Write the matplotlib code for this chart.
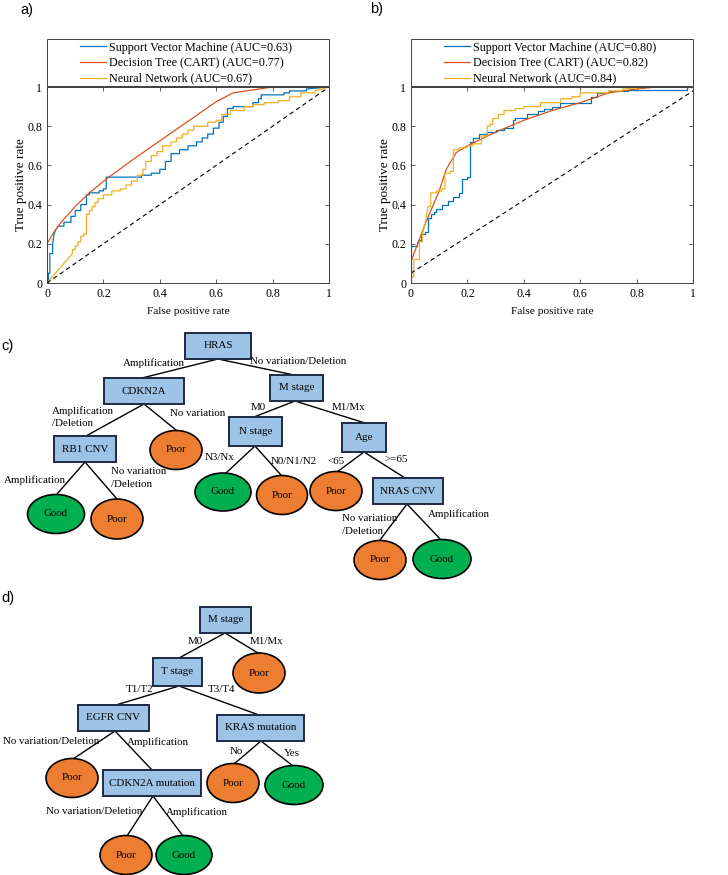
import matplotlib
matplotlib.use("Agg")
import matplotlib.pyplot as plt
from matplotlib.patches import Rectangle, Ellipse

# ---------------- ROC data ----------------
model_names = ["Support Vector Machine", "Decision Tree (CART)", "Neural Network"]
auc_a = [0.63, 0.77, 0.67]
auc_b = [0.80, 0.82, 0.84]

svm_a_fpr = [0, 0.005, 0.005, 0.01, 0.01, 0.02, 0.02, 0.025, 0.03, 0.04, 0.06, 0.06, 0.085, 0.085, 0.1, 0.1, 0.12, 0.12, 0.14, 0.14, 0.15, 0.15, 0.185, 0.185, 0.2, 0.2, 0.21, 0.21,
             0.335, 0.335, 0.37, 0.37, 0.4, 0.4, 0.42, 0.42, 0.44, 0.44, 0.47, 0.47, 0.5, 0.5, 0.53, 0.53, 0.55, 0.55, 0.57, 0.57, 0.59, 0.59, 0.61, 0.61, 0.625, 0.625, 0.64, 0.64,
             0.66, 0.66, 0.73, 0.73, 0.75, 0.75, 0.76, 0.76, 0.84, 0.84, 0.86, 0.86, 0.92, 0.92, 1.0]
svm_a_tpr = [0, 0, 0.05, 0.05, 0.15, 0.15, 0.2, 0.25, 0.27, 0.29, 0.29, 0.31, 0.31, 0.34, 0.34, 0.37, 0.37, 0.40, 0.40, 0.45, 0.45, 0.46, 0.46, 0.47, 0.47, 0.48, 0.48, 0.54,
             0.54, 0.55, 0.55, 0.56, 0.56, 0.58, 0.58, 0.62, 0.62, 0.66, 0.66, 0.68, 0.68, 0.70, 0.70, 0.72, 0.72, 0.74, 0.74, 0.76, 0.76, 0.79, 0.79, 0.82, 0.82, 0.85, 0.85, 0.89,
             0.89, 0.90, 0.90, 0.92, 0.92, 0.94, 0.94, 0.96, 0.96, 0.97, 0.97, 0.98, 0.98, 0.99, 1.0]

dt_a_fpr = [0, 0, 0.02, 0.05, 0.1, 0.15, 0.21, 0.3, 0.4, 0.5, 0.6, 0.66, 0.8, 1.0]
dt_a_tpr = [0, 0.2, 0.25, 0.31, 0.39, 0.46, 0.53, 0.625, 0.725, 0.825, 0.925, 0.97, 1.0, 1.0]

nn_a_fpr = [0, 0.09, 0.09, 0.1, 0.1, 0.11, 0.11, 0.12, 0.12, 0.13, 0.13, 0.14, 0.14, 0.15, 0.15, 0.16, 0.16, 0.17, 0.17, 0.18, 0.18, 0.2, 0.2, 0.23, 0.23, 0.26, 0.26, 0.28, 0.28,
            0.3, 0.3, 0.32, 0.32, 0.34, 0.34, 0.35, 0.35, 0.37, 0.37, 0.39, 0.39, 0.41, 0.41, 0.44, 0.44, 0.46, 0.46, 0.48, 0.48, 0.5, 0.5, 0.52, 0.52, 0.57, 0.57, 0.6, 0.6,
            0.62, 0.62, 0.65, 0.65, 0.7, 0.7, 0.73, 0.73, 0.77, 0.77, 0.82, 0.82, 0.86, 0.86, 0.9, 0.9, 0.95, 0.95, 1.0]
nn_a_tpr = [0, 0.15, 0.17, 0.17, 0.19, 0.19, 0.21, 0.21, 0.24, 0.24, 0.25, 0.25, 0.35, 0.35, 0.37, 0.37, 0.39, 0.39, 0.41, 0.41, 0.43, 0.43, 0.45, 0.45, 0.47, 0.47, 0.48, 0.48, 0.5,
            0.5, 0.52, 0.52, 0.55, 0.55, 0.58, 0.58, 0.62, 0.62, 0.65, 0.65, 0.67, 0.67, 0.7, 0.7, 0.72, 0.72, 0.74, 0.74, 0.76, 0.76, 0.78, 0.78, 0.8, 0.8, 0.82, 0.82, 0.83,
            0.83, 0.86, 0.86, 0.88, 0.88, 0.9, 0.9, 0.91, 0.91, 0.92, 0.92, 0.93, 0.93, 0.95, 0.95, 0.97, 0.97, 0.98, 1.0]

svm_b_fpr = [0, 0, 0.02, 0.02, 0.03, 0.03, 0.035, 0.035, 0.05, 0.05, 0.06, 0.06, 0.07, 0.07, 0.08, 0.08, 0.09, 0.09, 0.11, 0.11, 0.13, 0.13, 0.15, 0.15, 0.17, 0.17, 0.18, 0.18,
             0.2, 0.2, 0.21, 0.21, 0.22, 0.22, 0.24, 0.24, 0.27, 0.27, 0.3, 0.3, 0.33, 0.33, 0.36, 0.36, 0.37, 0.37, 0.41, 0.41, 0.45, 0.45, 0.47, 0.47, 0.5, 0.5, 0.53, 0.53,
             0.64, 0.64, 0.66, 0.66, 0.7, 0.7, 0.77, 0.77, 0.98, 0.98, 1.0]
svm_b_tpr = [0, 0.19, 0.19, 0.21, 0.21, 0.22, 0.22, 0.25, 0.25, 0.26, 0.26, 0.33, 0.33, 0.35, 0.35, 0.36, 0.36, 0.38, 0.38, 0.40, 0.40, 0.42, 0.42, 0.44, 0.44, 0.46, 0.46, 0.53,
             0.53, 0.54, 0.54, 0.72, 0.72, 0.74, 0.74, 0.76, 0.76, 0.77, 0.77, 0.78, 0.78, 0.79, 0.79, 0.83, 0.83, 0.84, 0.84, 0.86, 0.86, 0.88, 0.88, 0.89, 0.89, 0.90, 0.90, 0.92,
             0.92, 0.95, 0.95, 0.97, 0.97, 0.98, 0.98, 0.985, 0.985, 1.0, 1.0]

dt_b_fpr = [0, 0, 0.05, 0.1, 0.125, 0.16, 0.2, 0.3, 0.4, 0.5, 0.6, 0.7, 0.8, 0.87, 1.0]
dt_b_tpr = [0, 0.11, 0.3, 0.47, 0.58, 0.665, 0.70, 0.77, 0.83, 0.88, 0.92, 0.97, 0.99, 1.0, 1.0]

nn_b_fpr = [0, 0, 0.01, 0.01, 0.03, 0.03, 0.04, 0.04, 0.05, 0.06, 0.07, 0.07, 0.09, 0.09, 0.11, 0.11, 0.12, 0.12, 0.14, 0.14, 0.15, 0.15, 0.17, 0.17, 0.2, 0.2, 0.22, 0.22,
            0.25, 0.25, 0.27, 0.27, 0.28, 0.28, 0.29, 0.29, 0.31, 0.31, 0.33, 0.33, 0.37, 0.37, 0.4, 0.4, 0.46, 0.46, 0.53, 0.53, 0.57, 0.57, 0.6, 0.6, 0.7, 0.7, 0.75, 0.75,
            0.85, 1.0]
nn_b_tpr = [0, 0.03, 0.03, 0.12, 0.12, 0.21, 0.21, 0.25, 0.3, 0.39, 0.39, 0.46, 0.46, 0.47, 0.47, 0.48, 0.48, 0.56, 0.56, 0.57, 0.57, 0.68, 0.68, 0.69, 0.69, 0.70, 0.70, 0.71,
            0.71, 0.75, 0.75, 0.80, 0.80, 0.81, 0.81, 0.84, 0.84, 0.86, 0.86, 0.88, 0.88, 0.89, 0.89, 0.90, 0.90, 0.92, 0.92, 0.94, 0.94, 0.95, 0.95, 0.97, 0.97, 0.98, 0.98, 0.99,
            1.0, 1.0]

chance_a = ([0, 1], [0, 1])
chance_b = ([0, 1], [0.05, 0.98])

tick_vals = [0, 0.2, 0.4, 0.6, 0.8, 1]
tick_labels = ["0", "0.2", "0.4", "0.6", "0.8", "1"]

# ---------------- Tree data ----------------
tree_c_boxes = ["HRAS", "CDKN2A", "M stage", "RB1 CNV", "N stage", "Age", "NRAS CNV"]
tree_c_leaves = ["Poor", "Good", "Poor", "Good", "Poor", "Poor", "Poor", "Good"]
tree_c_edge_labels = ["Amplification", "No variation/Deletion", "Amplification\n/Deletion", "No variation",
                      "M0", "M1/Mx", "N3/Nx", "N0/N1/N2", "<65", ">=65", "Amplification",
                      "No variation\n/Deletion", "No variation\n/Deletion", "Amplification"]

tree_d_boxes = ["M stage", "T stage", "EGFR CNV", "KRAS mutation", "CDKN2A mutation"]
tree_d_leaves = ["Poor", "Poor", "Poor", "Good", "Poor", "Good"]
tree_d_edge_labels = ["M0", "M1/Mx", "T1/T2", "T3/T4", "No variation/Deletion", "Amplification",
                      "No", "Yes", "No variation/Deletion", "Amplification"]

# ---------------- Layout (pixel positions in the figure) ----------------
c_box_geom = [(185, 333, 66, 26), (104, 378, 80, 26), (270, 375, 53, 26), (54, 436, 62, 26),
              (229, 417, 53, 29), (342, 423, 44, 29), (373, 478, 70, 26)]
c_leaf_geom = [(176, 450, 52, 39), (56, 514, 57, 39), (117, 519, 52, 40), (223, 492, 56, 38),
               (282, 495, 51, 39), (336, 491, 52, 39), (380, 560, 52, 39), (442, 559, 58, 39)]
c_lines = [((218, 359), (142, 378)), ((218, 359), (294, 375)), ((144, 404), (86, 436)), ((144, 404), (176, 430)),
           ((295, 401), (254, 417)), ((295, 401), (365, 423)), ((85, 462), (57, 494)), ((85, 462), (117, 499)),
           ((255, 446), (226, 473)), ((255, 446), (281, 475)), ((364, 452), (337, 472)), ((364, 452), (405, 478)),
           ((407, 504), (380, 540)), ((407, 504), (441, 540))]
c_label_pos = [(154, 363, "center"), (298, 362, "center"), (52, 417, "left"), (198, 414, "center"),
               (258, 407, "center"), (348, 407, "center"), (220, 457, "center"), (294, 461, "center"),
               (336, 462, "center"), (396, 459, "center"), (35, 480, "center"), (111, 478, "left"),
               (342, 525, "left"), (459, 514, "center")]

d_box_geom = [(200, 607, 51, 26), (153, 658, 49, 28), (78, 705, 71, 26), (217, 715, 87, 26), (103, 770, 98, 26)]
d_leaf_geom = [(259, 673, 52, 40), (72, 778, 52, 39), (233, 783, 52, 39), (294, 785, 58, 39),
               (126, 855, 52, 39), (184, 855, 56, 39)]
d_lines = [((225, 633), (179, 658)), ((225, 633), (258, 653)), ((179, 686), (116, 705)), ((179, 686), (259, 715)),
           ((115, 731), (73, 759)), ((115, 731), (152, 770)), ((261, 741), (234, 764)), ((261, 741), (293, 766)),
           ((153, 796), (127, 836)), ((153, 796), (183, 836))]
d_label_pos = [(195, 642, "center"), (266, 642, "center"), (140, 689, "center"), (221, 689, "center"),
               (51, 741, "center"), (158, 742, "center"), (236, 752, "center"), (292, 753, "center"),
               (94, 811, "center"), (197, 812, "center")]

# ---------------- Styles ----------------
SERIF = ["Liberation Serif", "DejaVu Serif"]
SANS = ["Liberation Sans", "DejaVu Sans"]
colors = ["#0072BD", "#D95319", "#EDB120"]
box_fill = "#9DC3E6"
box_edge = "#1F2A44"
leaf_colors = {"Poor": "#ED7D31", "Good": "#00B050"}
axcol = "#404040"

W, H = 728, 875
fig = plt.figure(figsize=(W / 100, H / 100), dpi=100)


def roc_axes(left_px, curves, aucs, chance):
    ax = fig.add_axes([left_px / W, (H - 283) / H, 282 / W, 196 / H])
    for (fx, ty), c, name, a in zip(curves, colors, model_names, aucs):
        ax.plot(fx, ty, color=c, lw=0.9, label=f"{name} (AUC={a:.2f})")
    ax.plot(chance[0], chance[1], color="black", lw=0.8, ls=(0, (4, 3)))
    ax.set_xlim(0, 1)
    ax.set_ylim(0, 1)
    ax.set_xticks(tick_vals)
    ax.set_yticks(tick_vals)
    ax.set_xticklabels(tick_labels, fontfamily=SERIF, fontsize=8.6)
    ax.set_yticklabels(tick_labels, fontfamily=SERIF, fontsize=8.6)
    ax.tick_params(direction="in", length=3, width=0.6, color=axcol, top=True, right=True, pad=3.5)
    for s in ax.spines.values():
        s.set_color(axcol)
        s.set_linewidth(0.7)
    ax.set_xlabel("False positive rate", fontfamily=SERIF, fontsize=8.2, labelpad=5)
    ax.set_ylabel("True positive rate", fontfamily=SERIF, fontsize=9.5, labelpad=0)
    # legend box
    ax.add_patch(Rectangle((0, 1.005), 1, 0.24, transform=ax.transAxes, fill=False,
                           edgecolor=axcol, lw=0.7, clip_on=False))
    ax.legend(loc="upper left", bbox_to_anchor=(0.118, 1.232), frameon=False,
              prop={"family": SERIF, "size": 8.7}, borderpad=0, borderaxespad=0,
              handlelength=2.1, handletextpad=0.3, labelspacing=0.3)
    return ax


roc_axes(47, [(svm_a_fpr, svm_a_tpr), (dt_a_fpr, dt_a_tpr), (nn_a_fpr, nn_a_tpr)], auc_a, chance_a)
roc_axes(411, [(svm_b_fpr, svm_b_tpr), (dt_b_fpr, dt_b_tpr), (nn_b_fpr, nn_b_tpr)], auc_b, chance_b)

# ---------------- Trees ----------------
tax = fig.add_axes([0, 0, 1, 1])
tax.set_xlim(0, W)
tax.set_ylim(H, 0)
tax.axis("off")
TFS = 7.9


def draw_tree(boxes, box_geom, leaves, leaf_geom, lines, labels, label_pos):
    for (p, q) in lines:
        tax.plot([p[0], q[0]], [p[1], q[1]], color="black", lw=1.0, zorder=1)
    for name, (x, y, w, h) in zip(boxes, box_geom):
        tax.add_patch(Rectangle((x, y), w, h, facecolor=box_fill, edgecolor=box_edge, lw=1.4, zorder=2))
        tax.text(x + w / 2, y + h / 2, name, ha="center", va="center", fontfamily=SERIF, fontsize=TFS, zorder=3)
    for name, (cx, cy, w, h) in zip(leaves, leaf_geom):
        tax.add_patch(Ellipse((cx, cy), w, h, facecolor=leaf_colors[name], edgecolor="black", lw=1.2, zorder=2))
        tax.text(cx, cy, name, ha="center", va="center", fontfamily=SERIF, fontsize=TFS, zorder=3)
    for lab, (x, y, ha) in zip(labels, label_pos):
        tax.text(x, y, lab, ha=ha, va="center", fontfamily=SERIF, fontsize=TFS, linespacing=1.45, zorder=4)


draw_tree(tree_c_boxes, c_box_geom, tree_c_leaves, c_leaf_geom, c_lines, tree_c_edge_labels, c_label_pos)
draw_tree(tree_d_boxes, d_box_geom, tree_d_leaves, d_leaf_geom, d_lines, tree_d_edge_labels, d_label_pos)

# panel labels
for lab, x, y in [("a)", 20, 10), ("b)", 370, 9), ("c)", 1, 346), ("d)", 1, 598)]:
    tax.text(x, y, lab, ha="left", va="center", fontfamily=SANS, fontsize=10.5)

fig.savefig("out.png", dpi=100)
